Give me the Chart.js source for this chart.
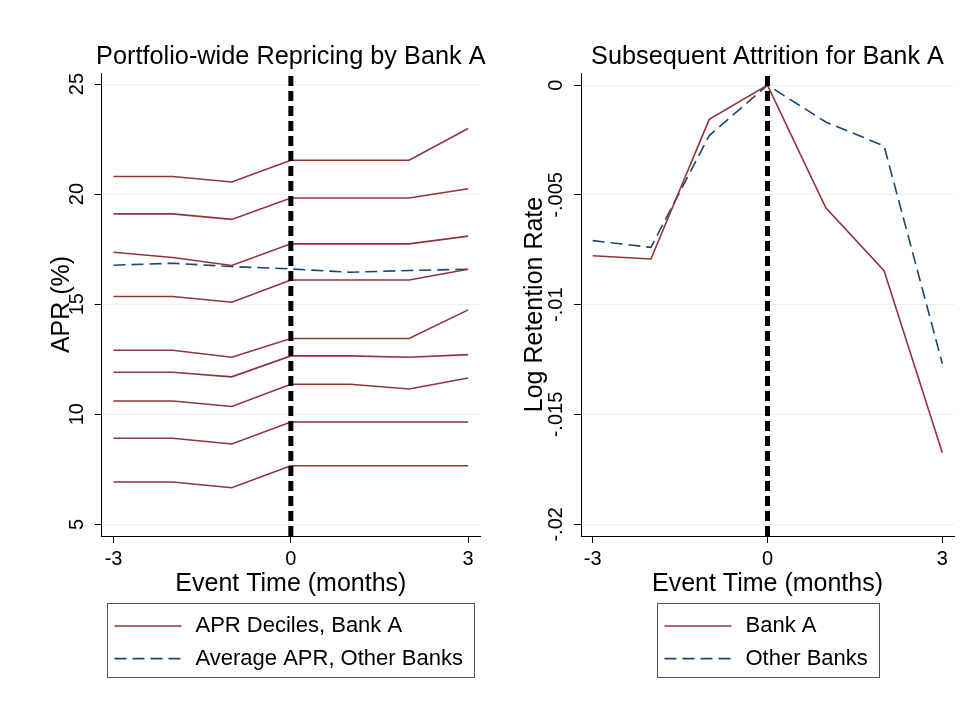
<!DOCTYPE html>
<html>
<head>
<meta charset="utf-8">
<script src="https://cdn.jsdelivr.net/npm/chart.js@4.4.1/dist/chart.umd.min.js"></script>
<style>
  html, body { margin: 0; padding: 0; background: #fff; }
  .panel { position: absolute; top: 0; height: 712px; }
</style>
</head>
<body>
<div class="panel" style="left:0;width:490px"><canvas id="aprChart" width="490" height="712"></canvas></div>
<div class="panel" style="left:490px;width:489px"><canvas id="attritionChart" width="489" height="712"></canvas></div>
<script>
const FONT = "'Liberation Sans', Arial, Helvetica, sans-serif";
const RED = '#90353b';
const BLUE = '#1a476f';

// event time in months
const months = [-3, -2, -1, 0, 1, 2, 3];
const xTicks = [-3, 0, 3];

// APR deciles of Bank A (%), lowest to highest
const aprDecile1 = [6.92, 6.92, 6.66, 7.66, 7.66, 7.66, 7.66];
const aprDecile2 = [8.91, 8.91, 8.65, 9.65, 9.65, 9.65, 9.65];
const aprDecile3 = [10.60, 10.60, 10.35, 11.36, 11.36, 11.15, 11.65];
const aprDecile4 = [11.91, 11.91, 11.70, 12.65, 12.65, 12.59, 12.71];
const aprDecile5 = [12.91, 12.91, 12.59, 13.44, 13.44, 13.44, 14.74];
const aprDecile6 = [15.35, 15.35, 15.09, 16.10, 16.10, 16.10, 16.59];
const aprDecile7 = [17.36, 17.12, 16.76, 17.74, 17.74, 17.74, 18.09];
const aprDecile8 = [19.10, 19.10, 18.85, 19.82, 19.82, 19.82, 20.24];
const aprDecile9 = [20.80, 20.80, 20.55, 21.54, 21.54, 21.54, 22.98];
const aprOtherBanks = [16.77, 16.86, 16.71, 16.60, 16.45, 16.53, 16.59];
const aprTicks = [5, 10, 15, 20, 25];
const aprTickLabels = ['5', '10', '15', '20', '25'];

// log retention rate
const retentionBankA = [-0.00777, -0.00792, -0.00156, 0, -0.00559, -0.00845, -0.01674];
const retentionOtherBanks = [-0.00708, -0.00739, -0.0023, 0, -0.00168, -0.00277, -0.01268];
const retentionTicks = [-0.02, -0.015, -0.01, -0.005, 0];
const retentionTickLabels = ['-.02', '-.015', '-.01', '-.005', '0'];

const toPoints = vals => vals.map((v, i) => ({x: months[i], y: v}));

// title centred over the plot region, allowed to be wider than it
const panelTitle = {
    id: 'panelTitle',
    afterDraw(chart, args, opts) {
        const {ctx, chartArea} = chart;
        ctx.save();
        ctx.font = '25.3px ' + FONT;
        ctx.fillStyle = '#000';
        ctx.textAlign = 'center';
        ctx.textBaseline = 'middle';
        ctx.fillText(opts.text, (chartArea.left + chartArea.right) / 2, chartArea.top - 16);
        ctx.restore();
    }
};

// legend drawn as a framed box under the plot
const boxLegend = {
    id: 'boxLegend',
    afterDraw(chart, args, opts) {
        const ctx = chart.ctx;
        ctx.save();
        ctx.font = '22px ' + FONT;
        const textW = Math.max(...opts.items.map(it => ctx.measureText(it.text).width));
        const w = Math.round(7 + 67 + 14 + textW + 12);
        const h = 74;
        const cx = (chart.chartArea.left + chart.chartArea.right) / 2;
        const x0 = Math.round(cx - w / 2) + 0.5;
        const y0 = Math.round(chart.scales.x.bottom + 4) + 0.5;
        ctx.strokeStyle = '#555';
        ctx.lineWidth = 1;
        ctx.strokeRect(x0, y0, w, h);
        opts.items.forEach((it, i) => {
            const ds = chart.data.datasets[it.dataset];
            const y = y0 + 22.5 + i * 32.6;
            ctx.strokeStyle = ds.borderColor;
            ctx.lineWidth = ds.borderWidth;
            ctx.setLineDash(ds.borderDash || []);
            ctx.beginPath();
            ctx.moveTo(x0 + 7, y);
            ctx.lineTo(x0 + 74, y);
            ctx.stroke();
            ctx.setLineDash([]);
            ctx.fillStyle = '#000';
            ctx.textBaseline = 'middle';
            ctx.textAlign = 'left';
            ctx.fillText(it.text, x0 + 88, y);
        });
        ctx.restore();
    }
};

function lineSet(label, vals, color, dash) {
    return {
        label: label,
        data: toPoints(vals),
        borderColor: color,
        borderWidth: 1.6,
        borderDash: dash || [],
        pointRadius: 0,
        tension: 0,
        order: 1,
    };
}

function eventLine(yMin, yMax) {
    return {
        label: 'event',
        data: [{x: 0, y: yMin}, {x: 0, y: yMax}],
        borderColor: '#000',
        borderWidth: 5,
        borderDash: [10, 5],
        pointRadius: 0,
        order: 0,
    };
}

function makeChart(id, cfg) {
    const ctx = document.getElementById(id).getContext('2d');
    return new Chart(ctx, {
        type: 'line',
        data: {datasets: [eventLine(cfg.yMin, cfg.yMax)].concat(cfg.datasets)},
        plugins: [panelTitle, boxLegend],
        options: {
            responsive: false,
            animation: false,
            layout: {padding: {left: cfg.padLeft, right: cfg.padRight, top: 73, bottom: 113}},
            plugins: {
                legend: {display: false},
                tooltip: {enabled: false},
                title: {display: false},
                panelTitle: {text: cfg.title},
                boxLegend: {items: cfg.legendItems},
            },
            scales: {
                x: {
                    type: 'linear',
                    min: -3.2,
                    max: 3.2,
                    afterBuildTicks: s => { s.ticks = xTicks.map(v => ({value: v})); },
                    afterFit: s => { s.height = 63; },
                    grid: {drawOnChartArea: false, tickLength: 7, tickColor: '#000'},
                    border: {color: '#000', width: 1},
                    ticks: {color: '#000', font: {family: FONT, size: 20}, padding: 4, maxRotation: 0},
                    title: {
                        display: true,
                        text: 'Event Time (months)',
                        color: '#000',
                        font: {family: FONT, size: 25},
                        padding: {top: 0, bottom: 0},
                    },
                },
                y: {
                    type: 'linear',
                    min: cfg.yMin,
                    max: cfg.yMax,
                    afterBuildTicks: s => { s.ticks = cfg.yTicks.map(v => ({value: v})); },
                    afterFit: s => { s.width = cfg.yWidth; },
                    grid: {color: '#e6eff2', lineWidth: 1, tickLength: 7, tickColor: '#000'},
                    border: {color: '#000', width: 1},
                    ticks: {
                        color: '#000',
                        font: {family: FONT, size: 20},
                        minRotation: 90,
                        maxRotation: 90,
                        crossAlign: 'center',
                        padding: cfg.yTickPad,
                        callback: v => cfg.yLabels[cfg.yTicks.indexOf(v)],
                    },
                    title: {
                        display: true,
                        text: cfg.yTitle,
                        color: '#000',
                        font: {family: FONT, size: 25},
                        padding: {top: 0, bottom: 0},
                    },
                },
            },
        },
    });
}

makeChart('aprChart', {
    title: 'Portfolio-wide Repricing by Bank A',
    yTitle: 'APR (%)',
    yMin: 4.47,
    yMax: 25.5,
    yTicks: aprTicks,
    yLabels: aprTickLabels,
    yTickPad: 6,
    yWidth: 54.7,
    padLeft: 47,
    padRight: 10,
    datasets: [
        lineSet('APR Deciles, Bank A', aprDecile1, RED),
        lineSet('d2', aprDecile2, RED),
        lineSet('d3', aprDecile3, RED),
        lineSet('d4', aprDecile4, RED),
        lineSet('d5', aprDecile5, RED),
        lineSet('d6', aprDecile6, RED),
        lineSet('d7', aprDecile7, RED),
        lineSet('d8', aprDecile8, RED),
        lineSet('d9', aprDecile9, RED),
        lineSet('Average APR, Other Banks', aprOtherBanks, BLUE, [12, 6]),
    ],
    legendItems: [
        {text: 'APR Deciles, Bank A', dataset: 1},
        {text: 'Average APR, Other Banks', dataset: 10},
    ],
});

makeChart('attritionChart', {
    title: 'Subsequent Attrition for Bank A',
    yTitle: 'Log Retention Rate',
    yMin: -0.02053,
    yMax: 0.00055,
    yTicks: retentionTicks,
    yLabels: retentionTickLabels,
    yTickPad: -5,
    yWidth: 61,
    padLeft: 30,
    padRight: 25,
    datasets: [
        lineSet('Bank A', retentionBankA, RED),
        lineSet('Other Banks', retentionOtherBanks, BLUE, [12, 6]),
    ],
    legendItems: [
        {text: 'Bank A', dataset: 1},
        {text: 'Other Banks', dataset: 2},
    ],
});
</script>
</body>
</html>
